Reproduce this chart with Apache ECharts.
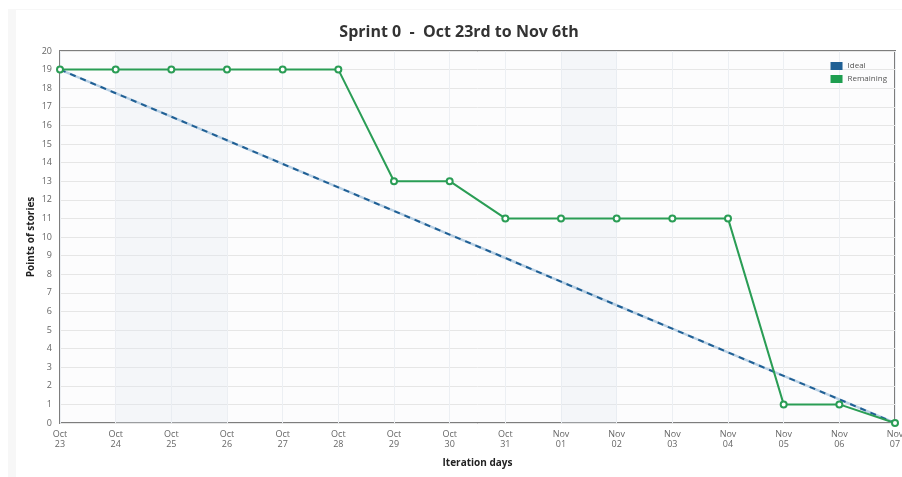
<!DOCTYPE html>
<html>
<head>
<meta charset="utf-8">
<script src="https://cdn.jsdelivr.net/npm/echarts@6/dist/echarts.min.js"></script>
<style>
  body { margin: 0; background: #fff; }
  #frame { position: absolute; left: 8px; top: 9px; width: 894px; height: 468px; background: #f7f7f7; }
  #chart { position: absolute; left: 16px; top: 10px; width: 886px; height: 467px; background: #fff; }
</style>
</head>
<body>
<div id="frame"></div>
<div id="chart"></div>
<script>
  const days = ["Oct\n23", "Oct\n24", "Oct\n25", "Oct\n26", "Oct\n27", "Oct\n28", "Oct\n29", "Oct\n30",
    "Oct\n31", "Nov\n01", "Nov\n02", "Nov\n03", "Nov\n04", "Nov\n05", "Nov\n06", "Nov\n07"];
  const ideal = [19, 17.73, 16.47, 15.2, 13.93, 12.67, 11.4, 10.13, 8.87, 7.6, 6.33, 5.07, 3.8, 2.53, 1.27, 0];
  const remaining = [19, 19, 19, 19, 19, 19, 13, 13, 11, 11, 11, 11, 11, 1, 1, 0];
  // weekend bands
  const weekends = [["Oct\n24", "Oct\n26"], ["Nov\n01", "Nov\n02"]];

  const font = "Open Sans";
  const chart = echarts.init(document.getElementById("chart"));
  chart.setOption({
    animation: false,
    textStyle: { fontFamily: font },
    title: {
      text: "Sprint 0  -  Oct 23rd to Nov 6th",
      left: "center",
      top: 9,
      textStyle: { fontSize: 16, fontWeight: "bold", color: "#333", fontFamily: font }
    },
    legend: {
      data: [
        { name: "Ideal", itemStyle: { color: "#1f5f94", borderWidth: 0 } },
        { name: "Remaining", itemStyle: { color: "#1e9e50", borderWidth: 0 } }
      ],
      orient: "vertical",
      right: 10,
      top: 47,
      icon: "rect",
      itemWidth: 12,
      itemHeight: 8,
      itemGap: 5,
      textStyle: { fontSize: 8, color: "#555" }
    },
    grid: {
      left: 44,
      right: 7,
      top: 41,
      bottom: 54,
      outerBoundsMode: "none",
      show: true,
      backgroundColor: "#fcfcfd",
      borderColor: "#7d7d7d",
      borderWidth: 2
    },
    xAxis: {
      type: "category",
      data: days,
      boundaryGap: false,
      name: "Iteration days",
      nameLocation: "middle",
      nameGap: 35,
      nameTextStyle: { fontSize: 10, fontWeight: "bold", color: "#222" },
      axisLine: { show: false },
      axisTick: { show: false },
      axisLabel: { interval: 0, fontSize: 9, color: "#666", lineHeight: 10, margin: 6 },
      splitLine: { show: true, lineStyle: { color: "#eceff3", width: 1 } }
    },
    yAxis: {
      type: "value",
      min: 0,
      max: 20,
      interval: 1,
      name: "Points of stories",
      nameLocation: "middle",
      nameRotate: 90,
      nameGap: 24,
      nameMoveOverlap: false,
      nameTextStyle: { fontSize: 10, fontWeight: "bold", color: "#222" },
      axisLine: { show: false },
      axisTick: { show: false },
      axisLabel: { fontSize: 9, color: "#666", margin: 8 },
      splitLine: { lineStyle: { color: "#e6e6e6", width: 1 } }
    },
    series: [
      {
        name: "IdealUnder",
        type: "line",
        data: ideal,
        symbol: "none",
        lineStyle: { color: "#b9d0e4", width: 2.5 },
        markArea: {
          silent: true,
          itemStyle: { color: "rgba(225,232,242,0.3)" },
          data: weekends.map(w => [{ xAxis: w[0] }, { xAxis: w[1] }])
        }
      },
      {
        name: "Ideal",
        type: "line",
        data: ideal,
        symbol: "none",
        color: "#1f5f94",
        lineStyle: { color: "#1f5f94", width: 2, type: [6, 5] }
      },
      {
        name: "Remaining",
        type: "line",
        data: remaining,
        symbol: "emptyCircle",
        symbolSize: 6,
        color: "#2a9d55",
        itemStyle: { color: "#2a9d55", borderWidth: 1.5 },
        lineStyle: { color: "#2a9d55", width: 2 },
        z: 3
      }
    ]
  });
</script>
</body>
</html>
